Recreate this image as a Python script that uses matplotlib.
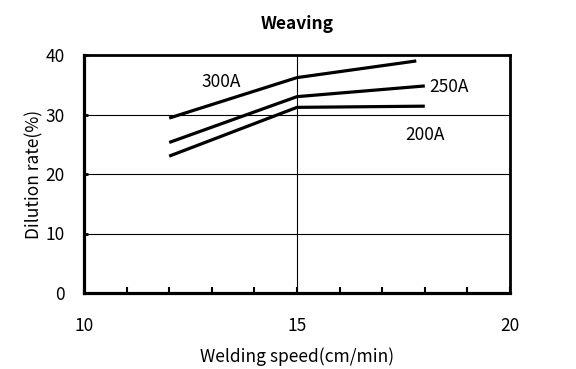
import numpy as np
import matplotlib.pyplot as plt

speed = [12, 15, 18]
speed_300 = [12, 15, 17.8]
rate_300 = [29.4, 36.2, 39.0]
rate_250 = [25.3, 33.0, 34.8]
rate_200 = [23.0, 31.2, 31.4]

plt.rcParams['font.family'] = ['Noto Sans CJK JP', 'DejaVu Sans']

fig = plt.figure(figsize=(5.76, 3.69), dpi=100)
ax = fig.add_axes([84 / 576, 1 - 293 / 369, (510 - 84) / 576, (293 - 55) / 369])

for y in [10, 20, 30]:
    ax.axhline(y, color='black', linewidth=0.8, zorder=1)
ax.axvline(15, color='black', linewidth=0.8, zorder=1)

ax.plot(speed_300, rate_300, color='black', linewidth=2.3, solid_capstyle='butt')
ax.plot(speed, rate_250, color='black', linewidth=2.3, solid_capstyle='butt')
ax.plot(speed, rate_200, color='black', linewidth=2.3, solid_capstyle='butt')

ax.text(12.75, 35.4, "300A", fontsize=12.5, va='center')
ax.text(18.1, 34.6, "250A", fontsize=12.5, va='center')
ax.text(17.55, 26.6, "200A", fontsize=12.5, va='center')

ax.set_xlim(10, 20)
ax.set_ylim(0, 40)
ax.set_xticks([10, 15, 20])
ax.set_xticks(np.arange(11, 20), minor=True)
ax.set_yticks([0, 10, 20, 30, 40])
ax.tick_params(axis='x', which='major', direction='in', length=4, width=1.5, pad=17, labelsize=12.5)
ax.tick_params(axis='x', which='minor', direction='in', length=4, width=1.5)
ax.tick_params(axis='y', direction='in', length=3, width=2, pad=14, labelsize=12.5)

for side in ['left', 'bottom']:
    ax.spines[side].set_linewidth(2.3)
for side in ['top', 'right']:
    ax.spines[side].set_linewidth(2.0)

ax.set_xlabel("Welding speed(cm/min)", fontsize=12.5, labelpad=9)
ax.set_ylabel("Dilution rate(%)", fontsize=12.5, labelpad=1)
ax.set_title("Weaving", fontsize=12.5, fontweight='bold', pad=19)

fig.savefig("out.png", dpi=100)
